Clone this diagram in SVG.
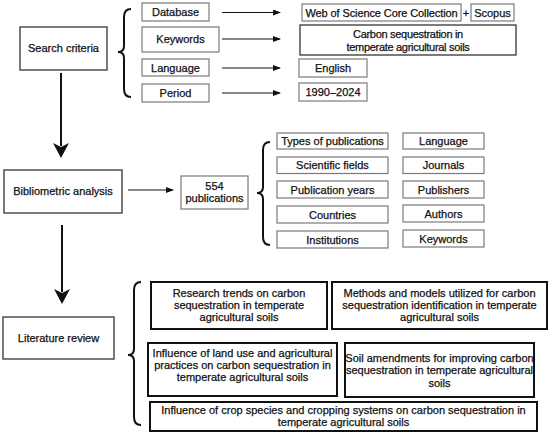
<svg xmlns="http://www.w3.org/2000/svg" width="550" height="435" viewBox="0 0 550 435">
<defs>
<marker id="ah" markerWidth="8" markerHeight="6" refX="7" refY="3" orient="auto" markerUnits="userSpaceOnUse">
<path d="M0,0 L8,3 L0,6 Z" fill="#111"/>
</marker>
<style>
text{font-family:"Liberation Sans",Arial,sans-serif;font-size:11px;fill:#111;stroke:#111;stroke-width:0.25;text-anchor:middle}
.sm{fill:#fff;stroke:#7a7a7a;stroke-width:1.2}
.md{fill:#fff;stroke:#444;stroke-width:1.4}
.bg{fill:#fff;stroke:#111;stroke-width:2}
.ln{stroke:#111;stroke-width:1;fill:none}
.vl{stroke:#111;stroke-width:2;fill:none}
.br{stroke:#111;stroke-width:2;fill:none}
</style>
</defs>
<rect width="550" height="435" fill="#fff"/>

<g id="connectors">
<line class="ln" x1="222" y1="12.5" x2="280" y2="12.5" marker-end="url(#ah)"/>
<line class="ln" x1="222" y1="39" x2="280" y2="39" marker-end="url(#ah)"/>
<line class="ln" x1="222" y1="68" x2="280" y2="68" marker-end="url(#ah)"/>
<line class="ln" x1="222" y1="93" x2="280" y2="93" marker-end="url(#ah)"/>
<line class="ln" x1="128" y1="190" x2="173" y2="190" marker-end="url(#ah)"/>
<line class="vl" x1="61" y1="73" x2="61" y2="146"/>
<polygon points="53,143 61,147 69,143 61,158" fill="#111"/>
<line class="vl" x1="62" y1="225" x2="62" y2="292"/>
<polygon points="54,289 62,293 70,289 62,304" fill="#111"/>
<path class="br" d="M131,9 Q124,9 124,17 L124,46 Q124,52 118,52 Q124,52 124,58 L124,89 Q124,97 131,97"/>
<path class="br" d="M270,142 Q263,142 263,150 L263,187 Q263,193 257,193 Q263,193 263,199 L263,237 Q263,245 270,245"/>
<path class="br" d="M141,282 Q134,282 134,290 L134,349 Q134,355 128,355 Q134,355 134,361 L134,417 Q134,425 141,425"/>
</g>

<g id="search-criteria"><rect class="md" x="20" y="27" width="87" height="43"/><text x="63.5" y="52">Search criteria</text></g>
<g id="database"><rect class="sm" x="142" y="3" width="67" height="18"/><text x="175.5" y="16">Database</text></g>
<g id="keywords"><rect class="sm" x="142" y="27" width="77" height="25"/><text x="180.5" y="43">Keywords</text></g>
<g id="language"><rect class="sm" x="142" y="59" width="67" height="17"/><text x="175.5" y="71.5">Language</text></g>
<g id="period"><rect class="sm" x="142" y="84" width="67" height="18"/><text x="175.5" y="97">Period</text></g>
<g id="wos"><rect class="sm" x="302" y="4" width="159" height="17"/><text x="381.5" y="16.5" style="letter-spacing:-0.1px">Web of Science Core Collection</text></g>
<g id="plus"><text x="466" y="16.5">+</text></g>
<g id="scopus"><rect class="sm" x="471" y="4" width="43" height="17"/><text x="492.5" y="16.5">Scopus</text></g>
<g id="carbon"><rect class="md" x="300" y="25" width="216" height="30"/><text x="408" y="38" style="letter-spacing:-0.3px">Carbon sequestration in</text><text x="408" y="50.5" style="letter-spacing:-0.3px">temperate agricultural soils</text></g>
<g id="english"><rect class="sm" x="299" y="59" width="68" height="18"/><text x="333" y="72">English</text></g>
<g id="years"><rect class="sm" x="299" y="83" width="68" height="18"/><text x="333" y="96">1990–2024</text></g>

<g id="bibliometric"><rect class="md" x="4" y="170" width="118" height="43"/><text x="63" y="195">Bibliometric analysis</text></g>
<g id="pubs"><rect class="sm" x="181" y="176" width="67" height="33"/><text x="214.5" y="190">554</text><text x="214.5" y="201.5">publications</text></g>

<g id="types"><rect class="sm" x="277" y="133" width="111" height="16"/><text x="332.5" y="145">Types of publications</text></g>
<g id="fields"><rect class="sm" x="277" y="157" width="111" height="16.5"/><text x="332.5" y="169">Scientific fields</text></g>
<g id="pubyears"><rect class="sm" x="277" y="181" width="111" height="17"/><text x="332.5" y="193.5">Publication years</text></g>
<g id="countries"><rect class="sm" x="277" y="206" width="111" height="17"/><text x="332.5" y="218.5">Countries</text></g>
<g id="institutions"><rect class="sm" x="277" y="231" width="111" height="17"/><text x="332.5" y="243.5">Institutions</text></g>
<g id="lang2"><rect class="sm" x="403" y="133" width="81" height="16"/><text x="443.5" y="145">Language</text></g>
<g id="journals"><rect class="sm" x="403" y="157" width="81" height="16.5"/><text x="443.5" y="169">Journals</text></g>
<g id="publishers"><rect class="sm" x="403" y="181" width="81" height="17"/><text x="443.5" y="193.5">Publishers</text></g>
<g id="authors"><rect class="sm" x="403" y="205" width="81" height="17"/><text x="443.5" y="217.5">Authors</text></g>
<g id="kw2"><rect class="sm" x="403" y="230" width="81" height="17"/><text x="443.5" y="242.5">Keywords</text></g>

<g id="literature"><rect class="md" x="3" y="317" width="111" height="42"/><text x="58.5" y="341.5">Literature review</text></g>
<g id="trends"><rect class="bg" x="151" y="282" width="176" height="47"/><text x="239" y="297">Research trends on carbon</text><text x="239" y="309">sequestration in temperate</text><text x="239" y="321">agricultural soils</text></g>
<g id="methods"><rect class="bg" x="332" y="282" width="215" height="47"/><text x="439.5" y="297">Methods and models utilized for carbon</text><text x="439.5" y="309">sequestration identification in temperate</text><text x="439.5" y="321">agricultural soils</text></g>
<g id="landuse"><rect class="bg" x="148" y="343" width="189" height="53"/><text x="242.5" y="356.5">Influence of land use and agricultural</text><text x="242.5" y="368.5">practices on carbon sequestration in</text><text x="242.5" y="380.5">temperate agricultural soils</text></g>
<g id="amendments"><rect class="bg" x="345" y="343" width="189" height="54"/><text x="439.5" y="362">Soil amendments for improving carbon</text><text x="439.5" y="374">sequestration in temperate agricultural</text><text x="439.5" y="386.5">soils</text></g>
<g id="crop"><rect class="bg" x="150" y="402" width="387" height="29"/><text x="343.5" y="414">Influence of crop species and cropping systems on carbon sequestration in</text><text x="343.5" y="426">temperate agricultural soils</text></g>
</svg>
